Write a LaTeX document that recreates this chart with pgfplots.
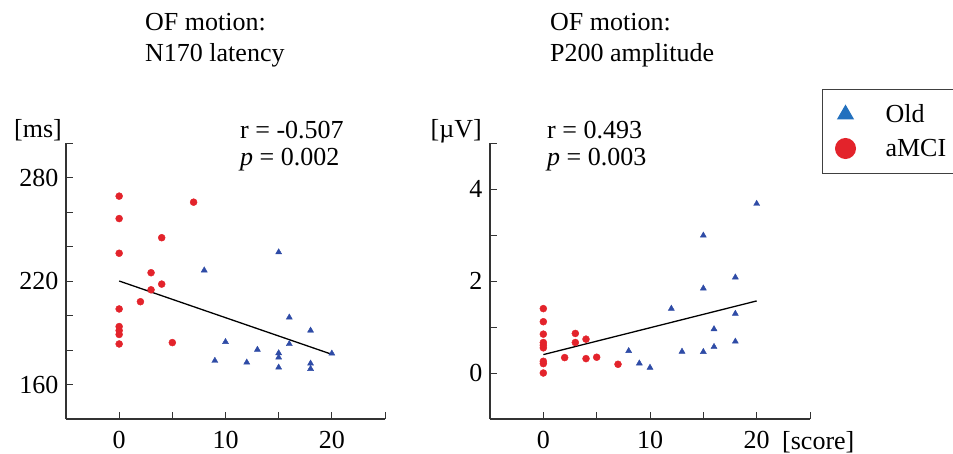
\documentclass[border=0pt]{standalone}
\usepackage{pgfplots}
\pgfplotsset{compat=1.18}
\usepackage{fontspec}
\setmainfont{Liberation Serif}
\definecolor{oldblue}{HTML}{2E4BA6}
\definecolor{mcired}{HTML}{E3232B}
\definecolor{legblue}{HTML}{2270BE}
\newcommand{\bigf}{\fontsize{26}{31}\selectfont}
\pgfplotsset{
  myax/.style={
    scale only axis, width=319pt, height=276pt, anchor=south west,
    axis lines=left, axis line style={-, line width=1.1pt, black!80},
    tick align=inside, major tick length=7pt,
    tick style={line width=1pt, black!80},
    enlargelimits=false, clip=false,
    tick label style={font=\bigf},
    xticklabel style={yshift=-9pt},
    yticklabel style={xshift=-4pt},
    /pgf/number format/assume math mode=true,
    xmin=-5, xmax=25, xtick={0,5,...,25}, xticklabels={0,,10,,20,},
  }
}
\begin{document}
\begin{tikzpicture}[x=1pt,y=1pt,font=\bigf]
\path[use as bounding box] (0,0) rectangle (953,-453);

% Left panel
\begin{axis}[myax, at={(66pt,-419pt)},
  ymin=140, ymax=300, ytick={140,160,...,300}, yticklabels={,160,,,220,,,280,}]
\addplot[only marks, mark=*, mark size=3.5pt, color=mcired] coordinates {
(0,269.2)(0,256.2)(0,236.1)(0,203.8)(0,193.6)(0,191.3)(0,189.0)(0,183.5)
(2,208.0)(3,224.8)(3,214.9)(4,245.1)(4,218.2)(5,184.3)(7,265.7)};
\addplot[only marks, mark=triangle*, mark size=3.5pt, color=oldblue] coordinates {
(8,226.2)(9,173.8)(10,184.7)(12,172.8)(13,180.2)(15,236.7)(15,178.2)(15,175.7)
(15,169.9)(16,198.9)(16,183.5)(18,191.3)(18,172.2)(18,169.1)(20,178.0)};
\addplot[black, line width=1.3pt] coordinates {(0,220)(20,177.5)};
\end{axis}

% Right panel
\begin{axis}[myax, at={(490pt,-419pt)}, width=320pt,
  ymin=-1, ymax=5, ytick={-1,0,...,5}, yticklabels={,0,,2,,4,},
  legend style={at={(rel axis cs:1.0375,1.1957)}, anchor=north west,
    draw=black!75, line width=1pt, font=\bigf, inner xsep=0pt, inner ysep=8pt,
    row sep=0pt, nodes={inner sep=2pt}},
  legend cell align=left,
  legend image code/.code={
    \path[draw=none,fill=none] (-23pt,-17pt) rectangle (38pt,17pt);
    \draw[#1] plot coordinates {(0pt,0pt)};}]
\addplot[only marks, mark=*, mark size=3.5pt, color=mcired, forget plot] coordinates {
(0,1.40)(0,1.115)(0,0.845)(0,0.663)(0,0.605)(0,0.547)(0,0.255)(0,0.204)(0,0)
(2,0.335)(3,0.86)(3,0.663)(4,0.736)(4,0.313)(5,0.343)(7,0.19)};
\addplot[only marks, mark=triangle*, mark size=3.5pt, color=oldblue, forget plot] coordinates {
(8,0.48)(9,0.21)(10,0.117)(12,1.40)(13,0.466)(15,2.99)(15,1.84)(15,0.46)
(16,0.955)(16,0.57)(18,2.08)(18,1.29)(18,0.685)(20,3.68)};
\addplot[black, line width=1.3pt, forget plot] coordinates {(0,0.40)(20,1.567)};
\addlegendimage{only marks, mark=triangle*, mark size=9pt, color=legblue}
\addlegendentry{Old}
\addlegendimage{only marks, mark=*, mark size=10pt, color=mcired}
\addlegendentry{aMCI\hspace*{40pt}}
\end{axis}

% Titles and annotations
\node[anchor=base west, inner sep=0pt] at (145,-30.5) {OF motion:};
\node[anchor=base west, inner sep=0pt] at (145,-61) {N170 latency};
\node[anchor=base west, inner sep=0pt] at (550,-30.5) {OF motion:};
\node[anchor=base west, inner sep=0pt] at (550,-61) {P200 amplitude};
\node[anchor=base west, inner sep=0pt] at (240,-138) {r = -0.507};
\node[anchor=base west, inner sep=0pt] at (240,-165) {\textit{p} = 0.002};
\node[anchor=base west, inner sep=0pt] at (547,-138) {r = 0.493};
\node[anchor=base west, inner sep=0pt] at (547,-165) {\textit{p} = 0.003};
\node[anchor=base east, inner sep=0pt] at (62,-137) {[ms]};
\node[anchor=base east, inner sep=0pt] at (482,-137) {[µV]};
\node[anchor=base west, inner sep=0pt] at (782,-449) {[score]};
\end{tikzpicture}
\end{document}
